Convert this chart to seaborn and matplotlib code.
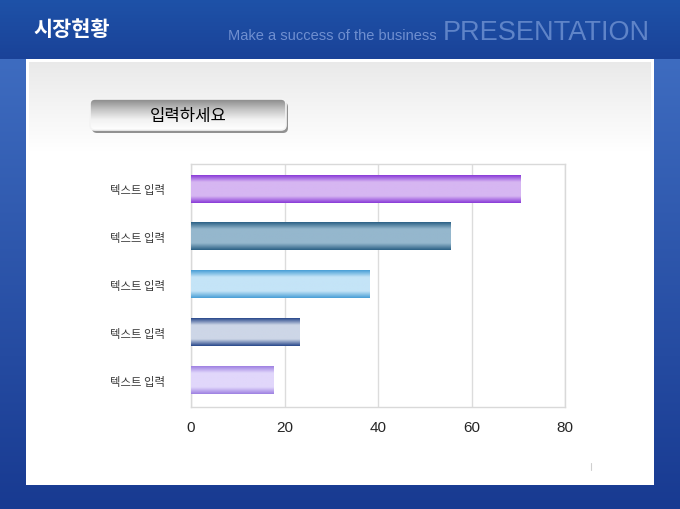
import numpy as np
import pandas as pd
import matplotlib.pyplot as plt
import seaborn as sns
from matplotlib.colors import LinearSegmentedColormap
from matplotlib.patches import FancyBboxPatch

# data
row_ids = ['r1', 'r2', 'r3', 'r4', 'r5']
tick_labels = ['텍스트 입력'] * 5
values = [70.4, 55.5, 38.2, 23.3, 17.6]
x_ticks = [0, 20, 40, 60, 80]
bar_edge = ['#8a3cd8', '#2d6286', '#4a9fd6', '#2b4a8c', '#9f82e2']
bar_mid = ['#d6b6f2', '#95b7cd', '#c4e4f7', '#cdd6e7', '#e1d7fb']

title_text = '시장현황'
sub_text = 'Make a success of the business'
big_text = 'PRESENTATION'
button_text = '입력하세요'

sns.set_style('white')
plt.rcParams['font.family'] = ['Noto Sans CJK KR', 'DejaVu Sans']

W, H = 680, 510
fig = plt.figure(figsize=(6.8, 5.1), dpi=100)

# background image (blue slide with white panel)
yy = np.arange(H)[:, None] * np.ones((1, W))
xx = np.ones((H, 1)) * np.arange(W)[None, :]
img = np.zeros((H, W, 3))
t = np.clip((yy - 60) / 450, 0, 1)
side_top = np.array([62, 108, 192]) / 255
side_bot = np.array([24, 58, 145]) / 255
for c in range(3):
    img[..., c] = side_top[c] * (1 - t) + side_bot[c] * t
head = yy < 60
th = np.clip(yy / 60, 0, 1)
head_top = np.array([30, 82, 168]) / 255
head_bot = np.array([26, 66, 152]) / 255
for c in range(3):
    img[..., c] = np.where(head, head_top[c] * (1 - th) + head_bot[c] * th, img[..., c])
panel = (xx >= 26) & (xx <= 653) & (yy >= 60) & (yy <= 485)
pg = 0.915 + 0.085 * np.clip((yy - 62) / 90, 0, 1)
for c in range(3):
    img[..., c] = np.where(panel, pg, img[..., c])
border = panel & ((xx < 29) | (xx > 650) | (yy < 63) | (yy > 482))
for c in range(3):
    img[..., c] = np.where(border, 1.0, img[..., c])

bg = fig.add_axes([0, 0, 1, 1])
bg.imshow(img, extent=[0, W, H, 0], aspect='auto', interpolation='bilinear', zorder=0)
bg.set_xlim(0, W)
bg.set_ylim(H, 0)
bg.axis('off')

bg.text(33, 30, title_text, fontsize=15, weight='bold', color='white',
        va='center', ha='left', family=['Noto Sans CJK KR'])
bg.text(228, 36, sub_text, fontsize=10.5, color='#6f8fd0', va='center', ha='left',
        family=['Liberation Sans', 'DejaVu Sans'])
bg.text(443, 33, big_text, fontsize=19.5, color='#5f84c8', va='center', ha='left',
        family=['Liberation Sans', 'DejaVu Sans'])
bg.plot([591, 591], [464, 471], color='#cfcfcf', lw=0.8)

# button
shadow = FancyBboxPatch((92, 103), 196, 31, boxstyle='round,pad=0,rounding_size=5',
                        fc='#6e6e6e', ec='none', alpha=0.75, zorder=1)
bg.add_patch(shadow)
btn = FancyBboxPatch((90, 100), 196, 31, boxstyle='round,pad=0,rounding_size=5',
                     fc='none', ec='none', zorder=2)
bg.add_patch(btn)
bgrad = np.linspace(0, 1, 64)[:, None]
bcmap = LinearSegmentedColormap.from_list('btn', ['#8a8a8a', '#c4c4c4', '#f2f2f2', '#ffffff'])
bim = bg.imshow(bgrad, extent=[90, 286, 131, 100], aspect='auto', cmap=bcmap, zorder=3)
bim.set_clip_path(btn)
bg.add_patch(FancyBboxPatch((90, 100), 196, 31, boxstyle='round,pad=0,rounding_size=5',
                            fc='none', ec='#f4f4f4', lw=1.2, zorder=4))
bg.text(188, 116, button_text, fontsize=12, color='black', va='center', ha='center', zorder=5)

# chart
ax = fig.add_axes([191 / W, 1 - 408 / H, 374 / W, 243 / H])
ax.set_facecolor('white')
df = pd.DataFrame({'row': row_ids, 'value': values})
sns.barplot(data=df, x='value', y='row', orient='h', width=0.57,
            color='white', ax=ax, zorder=2)

grad = np.abs(np.linspace(-1, 1, 64))[:, None]
for patch, e, m in zip(ax.patches, bar_edge, bar_mid):
    cmap = LinearSegmentedColormap.from_list('g', [m, m, e])
    x0, y0 = patch.get_x(), patch.get_y()
    w, h = patch.get_width(), patch.get_height()
    patch.set_facecolor('none')
    patch.set_edgecolor('none')
    ax.imshow(grad, extent=[x0, x0 + w, y0 + h, y0], aspect='auto', cmap=cmap, zorder=3)

ax.set_xlim(0, 80)
ax.set_ylim(4.56, -0.52)
ax.set_xticks(x_ticks)
ax.set_xticklabels([str(v) for v in x_ticks], fontsize=11,
                   family=['Liberation Sans', 'DejaVu Sans'])
ax.set_yticks(range(len(row_ids)))
ax.set_yticklabels(tick_labels, fontsize=8.2, color='#3a3a3a')
ax.set_xlabel('')
ax.set_ylabel('')
ax.grid(axis='x', color='#dcdcdc', lw=1)
ax.set_axisbelow(True)
for s in ax.spines.values():
    s.set_color('#d9d9d9')
    s.set_linewidth(1)
ax.tick_params(axis='y', length=0, pad=19)
ax.tick_params(axis='x', length=0, pad=9)

fig.savefig('out.png', dpi=100)
